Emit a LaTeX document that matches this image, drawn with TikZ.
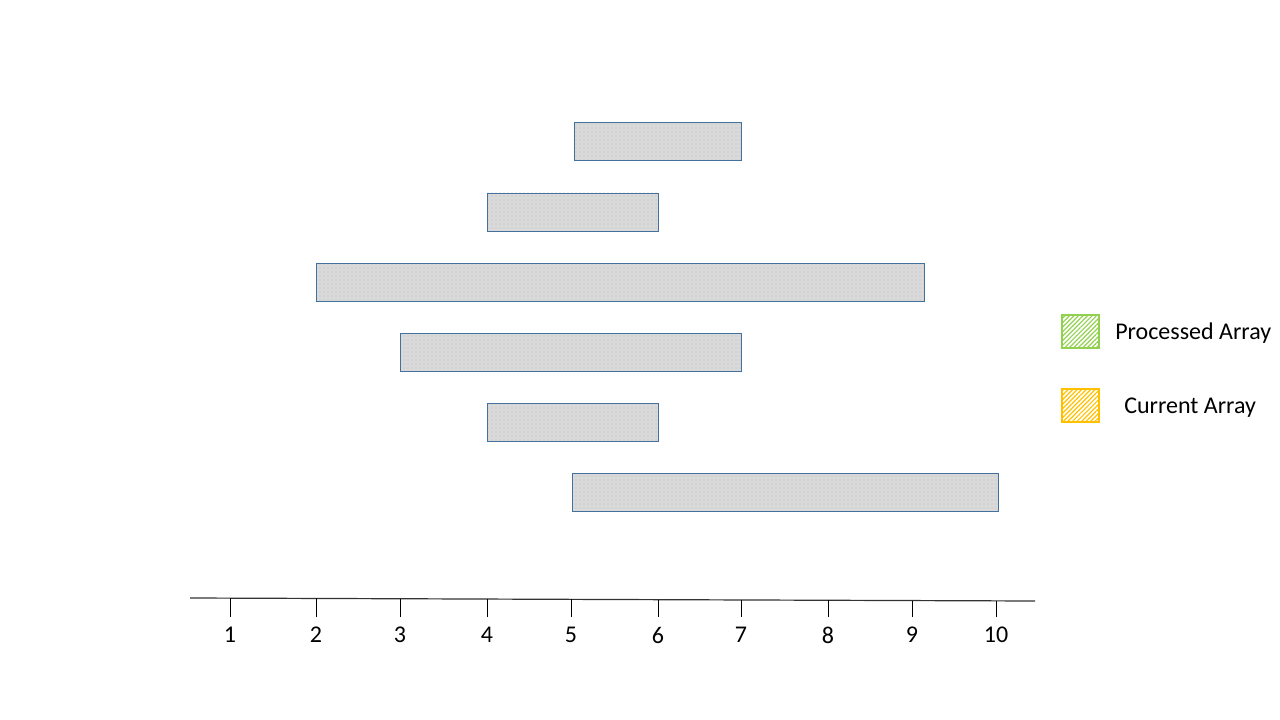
\documentclass[tikz,border=0pt]{standalone}
\usepackage{fontspec}
\setmainfont{Carlito}
\usetikzlibrary{patterns,patterns.meta}

\definecolor{barfill}{RGB}{217,217,217}
\definecolor{barline}{RGB}{65,113,156}
\definecolor{procgreen}{RGB}{146,208,80}
\definecolor{curorange}{RGB}{255,192,0}

\tikzset{
  bardots/.style={pattern=dots, pattern color=gray!50},
  tick/.style={line width=0.6pt},
  ticklabel/.style={font=\fontsize{18}{21}\selectfont, inner sep=0pt},
  legendlabel/.style={font=\fontsize{18}{21}\selectfont, inner sep=0pt, anchor=west},
  hatchbox/.style={draw=#1, line width=0.8pt,
    pattern={Lines[angle=45, distance=2.4pt, line width=0.9pt]}, pattern color=#1},
}

\begin{document}
\begin{tikzpicture}[x=0.75pt, y=-0.75pt]
  % Drawing parameters
  \pgfmathsetmacro{\barh}{38.5}

  \useasboundingbox (0,0) rectangle (1280,720);

  % intervals
  \foreach \xa/\xb/\y in {574/741/122, 487/658/193, 316/924/263, 400/741/333, 487/658/403, 572/998/473} {
    \fill[barfill] (\xa, \y) rectangle (\xb, \y+\barh);
    \fill[bardots] (\xa, \y) rectangle (\xb, \y+\barh);
    \draw[draw=barline, line width=0.7pt] (\xa, \y) rectangle (\xb, \y+\barh);
  }

  % axis
  \coordinate (axl) at (190, 598);
  \coordinate (axr) at (1035, 601);
  \draw[line width=0.9pt, black!80] (axl) -- (axr);
  \foreach \xv [count=\v] in {230,316,400,487,571,658,741,828,912,996} {
    \pgfmathsetmacro{\yv}{598+3*(\xv-190)/845}
    \draw[tick] (\xv, \yv) -- (\xv, 617);
    \node[ticklabel] (lab\v) at (\xv, 635) {\v};
  }

  % legend
  \draw[hatchbox=procgreen] (1062, 315) rectangle (1099, 348);
  \node[legendlabel] (processed) at (1115, 333) {Processed Array};
  \draw[hatchbox=curorange] (1062, 389) rectangle (1099, 422);
  \node[legendlabel] (current) at (1124, 408) {Current Array};

\end{tikzpicture}
\end{document}
